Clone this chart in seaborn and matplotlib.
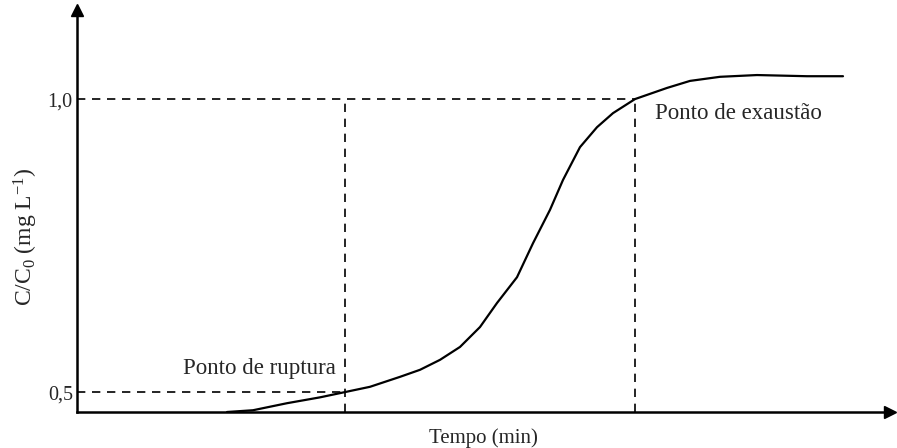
import seaborn as sns
import pandas as pd
import numpy as np
import matplotlib.pyplot as plt

# breakthrough curve (time in arbitrary min, C/C0)
tempo = [150, 176, 210, 243, 268, 293, 323, 343, 363, 383, 403, 420, 440, 456,
         473, 486, 503, 520, 536, 558, 590, 613, 643, 680, 730, 766]
conc = [0.466, 0.469, 0.481, 0.491, 0.500, 0.509, 0.526, 0.538, 0.555, 0.577,
        0.611, 0.652, 0.696, 0.754, 0.811, 0.862, 0.918, 0.952, 0.976, 1.000,
        1.019, 1.031, 1.038, 1.041, 1.039, 1.039]

t_ruptura, c_ruptura = 268, 0.5
t_exaustao, c_exaustao = 558, 1.0
ytick_vals = [0.5, 1.0]
ytick_labels = ["0,5", "1,0"]

df = pd.DataFrame({"Tempo": tempo, "C": conc})

sns.set_style("white")
plt.rcParams['font.family'] = ['Liberation Serif', 'DejaVu Serif']
plt.rcParams['mathtext.fontset'] = 'custom'
plt.rcParams['mathtext.rm'] = 'Liberation Serif'
plt.rcParams['mathtext.it'] = 'Liberation Serif:italic'

fig = plt.figure(figsize=(8.97, 4.48), dpi=100)
ax = fig.add_axes([77/897, 36/448, 813/897, 402/448])

sns.lineplot(data=df, x="Tempo", y="C", ax=ax, color="black", linewidth=1.6)

ax.set_xlim(0, 813)
ax.set_ylim(0.466, 1.152)

dash = dict(color="black", linestyle=(0, (5, 4)), linewidth=1.2)
ax.plot([0, t_ruptura], [c_ruptura, c_ruptura], **dash)
ax.plot([t_ruptura, t_ruptura], [0.466, c_exaustao], **dash)
ax.plot([0, t_exaustao], [c_exaustao, c_exaustao], **dash)
ax.plot([t_exaustao, t_exaustao], [0.466, c_exaustao], **dash)

ax.text(106, 0.541, "Ponto de ruptura", fontsize=16.5, va="center", ha="left")
ax.text(578, 0.976, "Ponto de exaustão", fontsize=16.5, va="center", ha="left")

sns.despine(ax=ax)
for s in ["left", "bottom"]:
    ax.spines[s].set_linewidth(1.8)
    ax.spines[s].set_color("black")

# arrow heads at the ends of the axes
ax.plot(1, 0, ">k", markersize=8, transform=ax.transAxes, clip_on=False)
ax.plot(0, 1, "^k", markersize=8, transform=ax.transAxes, clip_on=False)

ax.set_xticks([])
ax.set_yticks(ytick_vals)
ax.set_yticklabels(ytick_labels, fontsize=14.5)
ax.tick_params(axis="y", length=0, pad=3)

ax.set_xlabel("Tempo (min)", fontsize=15)
ax.xaxis.set_label_coords(0.5, -0.04)
ax.set_ylabel(r"C/C$_0$ (mg L$^{-1}$)", fontsize=17)
ax.yaxis.set_label_coords(-0.046, 0.435)

fig.savefig("out.png", dpi=100)
